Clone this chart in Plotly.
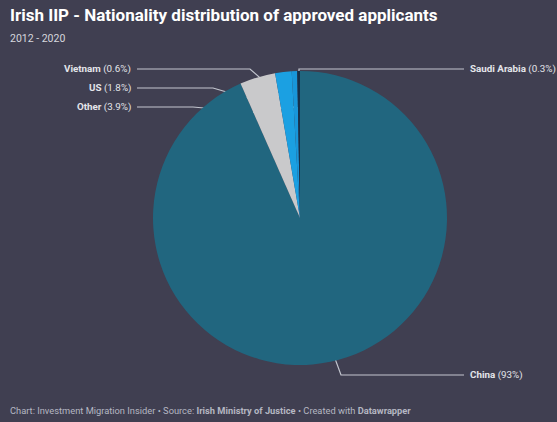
import math
import plotly.graph_objects as go

# data
countries = ["China", "Other", "US", "Vietnam", "Saudi Arabia"]
shares = [93, 3.9, 1.8, 0.6, 0.3]
share_labels = ["93%", "3.9%", "1.8%", "0.6%", "0.3%"]
colors = ["#21667f", "#c9c9cb", "#1ba0e2", "#1896da", "#15304a"]

W, H = 557, 422
BG = "#403f51"
LINE = "#c3c6cf"

# pie placement (pixels)
cx, cy, R = 300, 218, 147

fig = go.Figure()

fig.add_trace(go.Pie(
    labels=countries, values=shares, sort=False, direction="clockwise",
    marker=dict(colors=colors, line=dict(width=0)),
    textinfo="none", hoverinfo="label+percent", showlegend=False,
    domain=dict(x=[(cx - R) / W, (cx + R) / W],
                y=[1 - (cy + R) / H, 1 - (cy - R) / H]),
))

# label anchor points at slice mid angles
total = sum(shares)
anchors = {}
cum = 0
for name, v in zip(countries, shares):
    a = math.radians((cum + v / 2) / total * 360)
    r = 0.74 * R
    anchors[name] = (cx + r * math.sin(a), cy - r * math.cos(a))
    cum += v

# leader line elbows: (label side x, label y, elbow x)
left_labels = {"Vietnam": (137, 69, 250), "US": (137, 88, 213), "Other": (137, 107, 193)}

annotations = []
for name, (lx, ly, ex) in left_labels.items():
    px_, py_ = anchors[name]
    fig.add_trace(go.Scatter(x=[lx, ex, px_], y=[ly, ly, py_], mode="lines",
                             line=dict(color=LINE, width=1.2), hoverinfo="skip", showlegend=False))
    pct = share_labels[countries.index(name)]
    annotations.append(dict(x=lx - 4, y=ly, xref="x", yref="y", xanchor="right", yanchor="middle",
                            text=f"<b>{name}</b> ({pct})", showarrow=False,
                            font=dict(size=9.8, color="#e4e5ea")))

# Saudi Arabia: vertical up then right
px_, py_ = anchors["Saudi Arabia"]
fig.add_trace(go.Scatter(x=[px_, px_, 464], y=[py_, 69, 69], mode="lines",
                         line=dict(color=LINE, width=1.2), hoverinfo="skip", showlegend=False))
annotations.append(dict(x=468, y=69, xref="x", yref="y", xanchor="left", yanchor="middle",
                        text="<b>Saudi Arabia</b> (0.3%)", showarrow=False,
                        font=dict(size=9.8, color="#e4e5ea")))

# China: diagonal down then right
px_, py_ = anchors["China"]
fig.add_trace(go.Scatter(x=[px_, 341, 464], y=[py_, 375, 375], mode="lines",
                         line=dict(color=LINE, width=1.2), hoverinfo="skip", showlegend=False))
annotations.append(dict(x=468, y=375, xref="x", yref="y", xanchor="left", yanchor="middle",
                        text="<b>China</b> (93%)", showarrow=False,
                        font=dict(size=9.8, color="#e4e5ea")))

# end dots
fig.add_trace(go.Scatter(x=[anchors[n][0] for n in countries], y=[anchors[n][1] for n in countries],
                         mode="markers", marker=dict(symbol="square", size=4, color="#e8f4fa"),
                         hoverinfo="skip", showlegend=False))

# title, subtitle, footer
annotations += [
    dict(x=8, y=15, xref="x", yref="y", xanchor="left", yanchor="middle", showarrow=False,
         text="<b>Irish IIP - Nationality distribution of approved applicants</b>",
         font=dict(size=17, color="#ffffff")),
    dict(x=8, y=38, xref="x", yref="y", xanchor="left", yanchor="middle", showarrow=False,
         text="2012 - 2020", font=dict(size=10.5, color="#d6d7de")),
    dict(x=8, y=410, xref="x", yref="y", xanchor="left", yanchor="middle", showarrow=False,
         text="Chart: Investment Migration Insider \u2022 Source: <b>Irish Ministry of Justice</b>"
              " \u2022 Created with <b>Datawrapper</b>",
         font=dict(size=9.3, color="#b5b7c2")),
]

fig.update_layout(
    width=W, height=H,
    margin=dict(l=0, r=0, t=0, b=0),
    paper_bgcolor=BG, plot_bgcolor=BG,
    font=dict(family="Roboto, sans-serif"),
    xaxis=dict(range=[0, W], visible=False, fixedrange=True),
    yaxis=dict(range=[H, 0], visible=False, fixedrange=True),
    annotations=annotations,
)

# drop the browser's default page margin so the chart fills the window
fig.write_html("out.html", config={"displayModeBar": False},
               post_script="document.body.style.margin='0';document.body.style.overflow='hidden';")
